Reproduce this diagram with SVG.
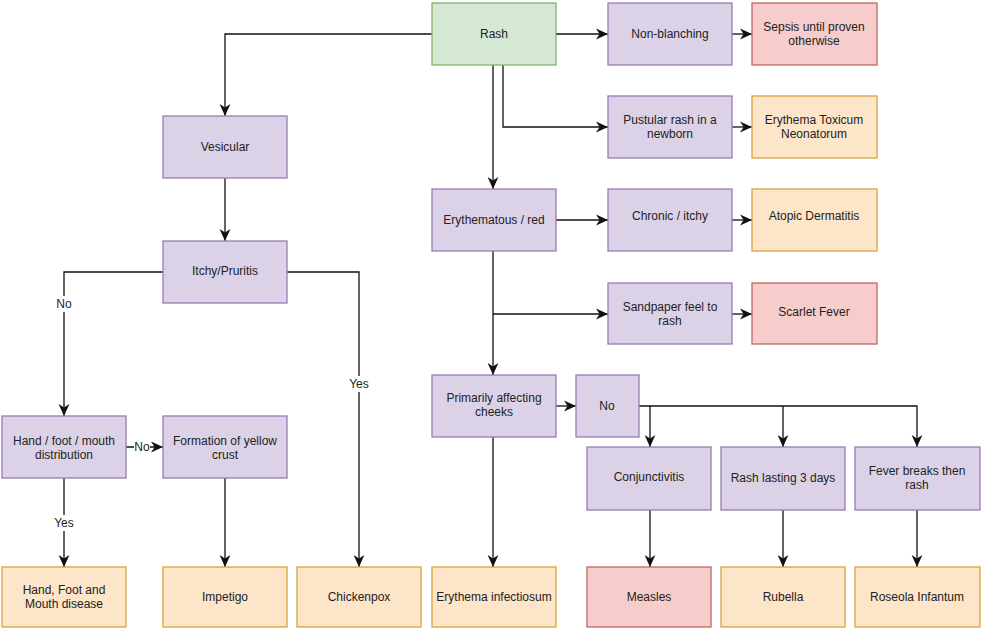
<svg xmlns="http://www.w3.org/2000/svg" width="983" height="630" viewBox="0 0 983 630">
<style>
.n rect{stroke-width:1.3}
.p rect{fill:#dcd2e8;stroke:#9a7cb0}
.g rect{fill:#d5e8d4;stroke:#82b366}
.r rect{fill:#f7cdcb;stroke:#c06764}
.o rect{fill:#fde5c9;stroke:#d9a440}
text{font-family:"Liberation Sans",Arial,sans-serif;font-size:12px;fill:#222;text-anchor:middle}
.e path,.e line,.e polyline{fill:none;stroke:#111;stroke-width:1.3}
.lb{fill:#fff;stroke:none}
</style>
<defs>
<marker id="a" markerUnits="userSpaceOnUse" markerWidth="12" markerHeight="12" viewBox="0 0 10 10" refX="10" refY="5" orient="auto">
<path d="M0,0.5 L10,5 L0,9.5 L3,5 z" fill="#111"/>
</marker>
</defs>
<rect width="983" height="630" fill="#fff"/>
<g id="edges" class="e">
<path d="M432,34 H225 V116" marker-end="url(#a)"/>
<path d="M556,34 H608" marker-end="url(#a)"/>
<path d="M732,34 H752" marker-end="url(#a)"/>
<path d="M503,65 V127 H608" marker-end="url(#a)"/>
<path d="M732,127 H752" marker-end="url(#a)"/>
<path d="M493,65 V189" marker-end="url(#a)"/>
<path d="M556,220 H608" marker-end="url(#a)"/>
<path d="M732,220 H752" marker-end="url(#a)"/>
<path d="M493,251 V375" marker-end="url(#a)"/>
<path d="M493,314 H608" marker-end="url(#a)"/>
<path d="M732,314 H752" marker-end="url(#a)"/>
<path d="M493,437 V567" marker-end="url(#a)"/>
<path d="M556,406 H576" marker-end="url(#a)"/>
<path d="M639,406 H917 V447" marker-end="url(#a)"/>
<path d="M650,406 V447" marker-end="url(#a)"/>
<path d="M783,406 V447" marker-end="url(#a)"/>
<path d="M650,510 V567" marker-end="url(#a)"/>
<path d="M783,510 V567" marker-end="url(#a)"/>
<path d="M917,510 V567" marker-end="url(#a)"/>
<path d="M225,178 V241" marker-end="url(#a)"/>
<path d="M163,272 H64 V416" marker-end="url(#a)"/>
<path d="M287,272 H359 V567" marker-end="url(#a)"/>
<path d="M126,447 H163" marker-end="url(#a)"/>
<path d="M64,478 V567" marker-end="url(#a)"/>
<path d="M225,478 V567" marker-end="url(#a)"/>
<rect class="lb" x="54" y="296" width="20" height="16"/>
<text x="64" y="308">No</text>
<rect class="lb" x="348" y="376" width="22" height="16"/>
<text x="359" y="388">Yes</text>
<rect class="lb" x="134" y="440" width="16" height="14"/>
<text x="142" y="451">No</text>
<rect class="lb" x="53" y="515" width="22" height="16"/>
<text x="64" y="527">Yes</text>
</g>
<g id="rash" class="n g"><rect x="432" y="3" width="124" height="62"/><text x="494" y="38">Rash</text></g>
<g id="nonblanching" class="n p"><rect x="608" y="3" width="124" height="62"/><text x="670" y="38">Non-blanching</text></g>
<g id="sepsis" class="n r"><rect x="752" y="3" width="125" height="62"/><text x="814" y="31">Sepsis until proven</text><text x="814" y="45">otherwise</text></g>
<g id="pustular" class="n p"><rect x="608" y="96" width="124" height="62"/><text x="670" y="124">Pustular rash in a</text><text x="670" y="138">newborn</text></g>
<g id="etn" class="n o"><rect x="752" y="96" width="125" height="62"/><text x="814" y="124">Erythema Toxicum</text><text x="814" y="138">Neonatorum</text></g>
<g id="erythematous" class="n p"><rect x="432" y="189" width="124" height="62"/><text x="494" y="224">Erythematous / red</text></g>
<g id="chronic" class="n p"><rect x="608" y="189" width="124" height="62"/><text x="670" y="220">Chronic / itchy</text></g>
<g id="atopic" class="n o"><rect x="752" y="189" width="125" height="62"/><text x="814" y="220">Atopic Dermatitis</text></g>
<g id="sandpaper" class="n p"><rect x="608" y="283" width="124" height="61"/><text x="670" y="311">Sandpaper feel to</text><text x="670" y="325">rash</text></g>
<g id="scarlet" class="n r"><rect x="752" y="283" width="125" height="61"/><text x="814" y="316">Scarlet Fever</text></g>
<g id="cheeks" class="n p"><rect x="432" y="375" width="124" height="62"/><text x="494" y="402">Primarily affecting</text><text x="494" y="416">cheeks</text></g>
<g id="no" class="n p"><rect x="576" y="375" width="63" height="62"/><text x="607" y="410">No</text></g>
<g id="conj" class="n p"><rect x="587" y="447" width="124" height="63"/><text x="649" y="481">Conjunctivitis</text></g>
<g id="lasting" class="n p"><rect x="721" y="447" width="124" height="63"/><text x="783" y="482">Rash lasting 3 days</text></g>
<g id="fever" class="n p"><rect x="855" y="447" width="125" height="63"/><text x="917" y="475">Fever breaks then</text><text x="917" y="489">rash</text></g>
<g id="infectiosum" class="n o"><rect x="432" y="567" width="124" height="60"/><text x="494" y="601">Erythema infectiosum</text></g>
<g id="measles" class="n r"><rect x="587" y="567" width="124" height="60"/><text x="649" y="601">Measles</text></g>
<g id="rubella" class="n o"><rect x="721" y="567" width="124" height="60"/><text x="783" y="601">Rubella</text></g>
<g id="roseola" class="n o"><rect x="855" y="567" width="125" height="60"/><text x="917" y="601">Roseola Infantum</text></g>
<g id="vesicular" class="n p"><rect x="163" y="116" width="124" height="62"/><text x="225" y="151">Vesicular</text></g>
<g id="itchy" class="n p"><rect x="163" y="241" width="124" height="62"/><text x="225" y="275">Itchy/Pruritis</text></g>
<g id="hfm" class="n p"><rect x="2" y="416" width="124" height="62"/><text x="64" y="445">Hand / foot / mouth</text><text x="64" y="459">distribution</text></g>
<g id="crust" class="n p"><rect x="163" y="416" width="124" height="62"/><text x="225" y="445">Formation of yellow</text><text x="225" y="459">crust</text></g>
<g id="hfmd" class="n o"><rect x="2" y="567" width="124" height="60"/><text x="64" y="594">Hand, Foot and</text><text x="64" y="608">Mouth disease</text></g>
<g id="impetigo" class="n o"><rect x="163" y="567" width="124" height="60"/><text x="225" y="601">Impetigo</text></g>
<g id="chickenpox" class="n o"><rect x="297" y="567" width="124" height="60"/><text x="359" y="601">Chickenpox</text></g>
</svg>
